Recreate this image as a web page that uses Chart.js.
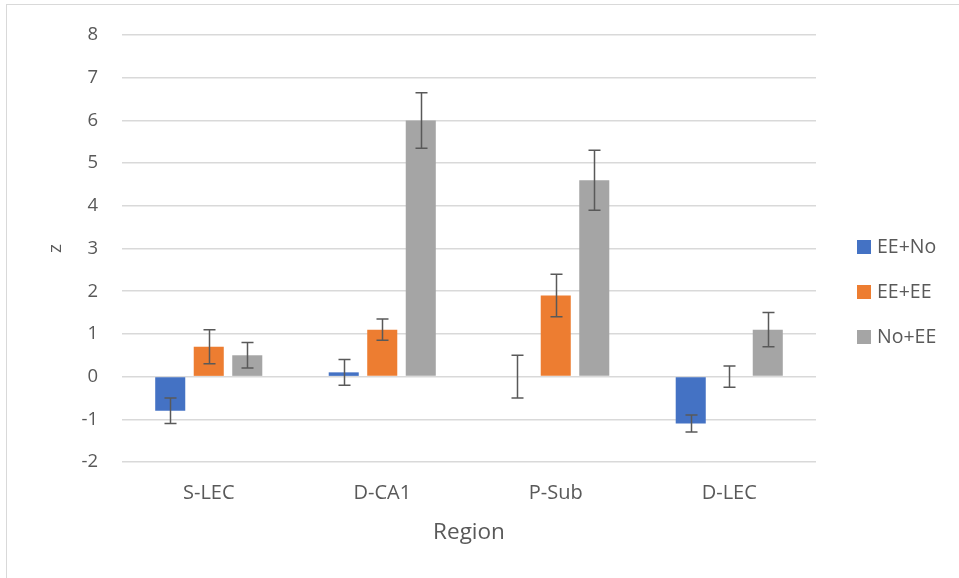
<!DOCTYPE html>
<html>
<head>
<meta charset="utf-8">
<script src="https://cdn.jsdelivr.net/npm/chart.js@4"></script>
<style>
  html, body { margin: 0; padding: 0; background: #fff; overflow: hidden; }
  #wrap { position: relative; width: 959px; height: 578px; }
  #frame { position: absolute; left: 6px; top: 4px; width: 1000px; height: 1000px; border: 1px solid #d9d9d9; box-sizing: border-box; }
  #chart { position: absolute; left: 0; top: 0; }
</style>
</head>
<body>
<div id="wrap">
  <div id="frame"></div>
  <canvas id="chart" width="959" height="578"></canvas>
</div>
<script>
// ==================================== data
const regions = ['S-LEC', 'D-CA1', 'P-Sub', 'D-LEC']
const seriesNames = ['EE+No', 'EE+EE', 'No+EE']
const eeNo = [-0.8, 0.1, 0, -1.1]
const eeEe = [0.7, 1.1, 1.9, 0]
const noEe = [0.5, 6.0, 4.6, 1.1]
const eeNoErr = [0.3, 0.3, 0.5, 0.2]
const eeEeErr = [0.4, 0.25, 0.5, 0.25]
const noEeErr = [0.3, 0.65, 0.7, 0.4]
const yTicks = [-2, -1, 0, 1, 2, 3, 4, 5, 6, 7, 8]

const colors = ['#4472C4', '#ED7D31', '#A5A5A5']
const textColor = '#595959'
const FONT = "'Open Sans', 'Liberation Sans', sans-serif"

// ==================================== plugins

// error bars drawn through the y scale
const errorBars = {
    id: 'errorBars',
    afterDatasetsDraw(chart) {
        const ctx = chart.ctx
        const y = chart.scales.y
        ctx.save()
        ctx.strokeStyle = '#595959'
        ctx.lineWidth = 1.5
        chart.data.datasets.forEach((ds, di) => {
            const meta = chart.getDatasetMeta(di)
            meta.data.forEach((bar, i) => {
                const v = ds.data[i]
                const e = ds.errors[i]
                const top = y.getPixelForValue(v + e)
                const bottom = y.getPixelForValue(v - e)
                const x = Math.round(bar.x) + 0.5
                ctx.beginPath()
                ctx.moveTo(x, top)
                ctx.lineTo(x, bottom)
                ctx.moveTo(x - 6, top)
                ctx.lineTo(x + 6, top)
                ctx.moveTo(x - 6, bottom)
                ctx.lineTo(x + 6, bottom)
                ctx.stroke()
            })
        })
        ctx.restore()
    }
}

// legend on the right, like the spreadsheet one
const sideLegend = {
    id: 'sideLegend',
    afterDraw(chart) {
        const ctx = chart.ctx
        const left = chart.chartArea.right + 41
        const mid = chart.height / 2 + 3
        const gap = 45
        ctx.save()
        ctx.font = `19.5px ${FONT}`
        ctx.textBaseline = 'middle'
        ctx.fillStyle = textColor
        chart.data.datasets.forEach((ds, i) => {
            const cy = mid + (i - 1) * gap
            ctx.fillStyle = ds.backgroundColor
            ctx.fillRect(left, cy - 7, 14, 14)
            ctx.fillStyle = textColor
            ctx.fillText(ds.label, left + 20, cy)
        })
        ctx.restore()
    }
}

// ==================================== chart
const myCanvas = document.querySelector('#chart')

const data = {
    labels: regions,
    datasets: [
        { label: seriesNames[0], data: eeNo, errors: eeNoErr, backgroundColor: colors[0] },
        { label: seriesNames[1], data: eeEe, errors: eeEeErr, backgroundColor: colors[1] },
        { label: seriesNames[2], data: noEe, errors: noEeErr, backgroundColor: colors[2] }
    ]
}

const config = {
    type: 'bar',
    data,
    options: {
        responsive: false,
        animation: false,
        categoryPercentage: 0.666,
        barPercentage: 0.78,
        layout: {
            padding: { left: 0, right: 143, top: 34, bottom: 0 }
        },
        plugins: {
            legend: { display: false },
            tooltip: { enabled: false }
        },
        scales: {
            x: {
                grid: { display: false, drawTicks: false },
                border: { display: false },
                ticks: {
                    color: textColor,
                    font: { family: FONT, size: 20 },
                    padding: 19,
                    maxRotation: 0
                },
                title: {
                    display: true,
                    text: 'Region',
                    color: textColor,
                    font: { family: FONT, size: 22.5 },
                    padding: { top: 0, bottom: 32 }
                },
                afterFit(scale) { scale.height = 116 }
            },
            y: {
                min: yTicks[0],
                max: yTicks[yTicks.length - 1],
                afterBuildTicks(scale) {
                    scale.ticks = yTicks.map(v => ({ value: v }))
                },
                grid: { color: '#d9d9d9', lineWidth: 1.5, drawTicks: false },
                border: { display: false },
                ticks: {
                    color: textColor,
                    font: { family: FONT, size: 18.5 },
                    padding: 24
                },
                title: {
                    display: true,
                    text: 'z',
                    color: textColor,
                    font: { family: FONT, size: 19 },
                    padding: { top: 44, bottom: 0 }
                },
                afterFit(scale) { scale.width = 122 }
            }
        }
    },
    plugins: [errorBars, sideLegend]
}

const myChart = new Chart(myCanvas, config)
</script>
</body>
</html>
